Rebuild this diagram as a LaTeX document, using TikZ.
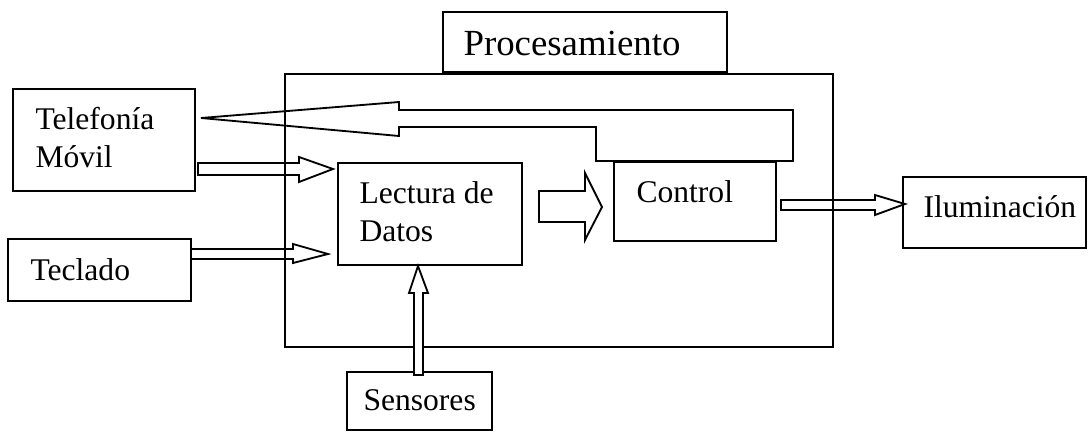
\documentclass[tikz,border=0pt]{standalone}
\usepackage{fontspec}
\setmainfont{Liberation Serif}
\usetikzlibrary{fit}
\begin{document}
\begin{tikzpicture}[x=0.38pt,y=-0.38pt,
  box/.style={draw, line width=0.75pt, inner sep=0pt},
  txt/.style={anchor=base west, inner sep=0pt, align=left, font=\fontsize{12}{14.4}\selectfont},
  bigtxt/.style={anchor=base west, inner sep=0pt, font=\fontsize{14}{16.8}\selectfont},
  blockarrow/.style={draw, line width=0.7pt, line join=miter}]
\useasboundingbox (0,0) rectangle (1091,432);

% blocks
\node[box, fit={(285,74) (833,347)}] (proc) {};
\node[box, fit={(443,12) (727,72)}, fill=white] (title) {};
\node[box, fit={(13,89) (195,191)}] (tel) {};
\node[box, fit={(8,239) (191,301)}] (tec) {};
\node[box, fit={(338,163) (522,265)}] (lect) {};
\node[box, fit={(614,162) (776,241)}] (ctrl) {};
\node[box, fit={(903,177) (1086,248)}] (ilum) {};
\node[box, fit={(347,372) (492,430)}] (sens) {};

% labels (two-line labels are placed by the baseline of their last line)
\node[bigtxt] (titletxt) at (463,55) {Procesamiento};
\node[txt] (teltxt) at (35,167) {Telefonía\\Móvil};
\node[txt] (tectxt) at (30,280) {Teclado};
\node[txt] (lecttxt) at (359,241) {Lectura de\\Datos};
\node[txt] (ctrltxt) at (636,202) {Control};
\node[txt] (ilumtxt) at (923,217) {Iluminación};
\node[txt] (senstxt) at (363,410) {Sensores};

% block arrows
% Control -> Telefonía Móvil (bent return arrow)
\draw[blockarrow] (201,118) -- (399,102) -- (399,110) -- (793,110) -- (793,161)
  -- (596,161) -- (596,127) -- (399,127) -- (399,136) -- cycle;
% Telefonía Móvil -> Lectura de Datos
\draw[blockarrow] (198,163) -- (299,163) -- (299,157) -- (333,169) -- (299,182)
  -- (299,175) -- (198,175) -- cycle;
% Teclado -> Lectura de Datos
\draw[blockarrow] (191,249) -- (293,249) -- (293,244) -- (328,254) -- (293,263)
  -- (293,259) -- (191,259) -- cycle;
% Lectura de Datos -> Control
\draw[blockarrow] (539,191) -- (585,191) -- (585,173) -- (602,207) -- (585,240)
  -- (585,222) -- (539,222) -- cycle;
% Control -> Iluminación
\draw[blockarrow] (781,200) -- (875,200) -- (875,195) -- (905,204) -- (875,215)
  -- (875,210) -- (781,210) -- cycle;
% Sensores -> Lectura de Datos
\draw[blockarrow, fill=white] (414,375) -- (414,293) -- (409,293) -- (418,266)
  -- (428,293) -- (423,293) -- (423,375) -- cycle;
\end{tikzpicture}
\end{document}
